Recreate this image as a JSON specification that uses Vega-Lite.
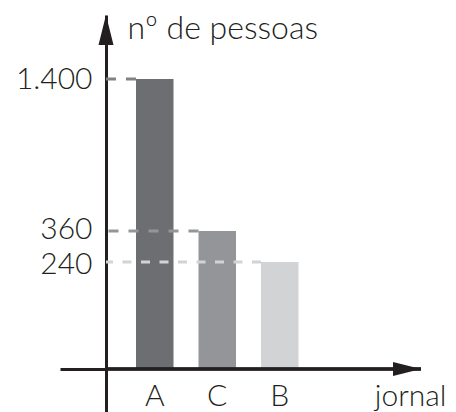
{
  "$schema": "https://vega.github.io/schema/vega-lite/v6.json",
  "autosize": {"type": "none"},
  "padding": {"left": 106, "top": 15, "right": 35, "bottom": 0},
  "width": 315,
  "height": 397,
  "background": "white",
  "config": {
    "view": {"stroke": null},
    "font": "Lato"
  },
  "data": {"values": [
    {"jornal": "A", "n": 1400},
    {"jornal": "C", "n": 360},
    {"jornal": "B", "n": 240}
  ]},
  "layer": [
    {
      "mark": {"type": "bar"},
      "encoding": {
        "x": {
          "field": "jornal", "type": "nominal",
          "scale": {"domain": ["A", "C", "B"], "range": [0, 287.5], "paddingInner": 0.4, "paddingOuter": 1, "align": 0.24},
          "axis": {
            "orient": "bottom", "offset": -43, "labelAngle": 0,
            "domain": false, "ticks": false, "grid": false,
            "labelFontSize": 30, "labelFontWeight": 300, "labelPadding": 36, "labelBaseline": "alphabetic", "labelColor": "#231f20",
            "title": "jornal", "titleFontSize": 30, "titleFontWeight": 300, "titleColor": "#231f20",
            "titleX": 340, "titleY": 36, "titleAlign": "right", "titleBaseline": "alphabetic", "titleAngle": 0
          }
        },
        "y": {
          "field": "n", "type": "quantitative",
          "scale": {"domain": [-100, 0, 240, 360, 1400, 1840], "range": [397, 354, 247, 216, 64, 0], "nice": false, "zero": false},
          "axis": {
            "orient": "left", "values": [0, 240, 360, 1400], "format": ",d",
            "labelExpr": "datum.value === 0 ? '' : replace(datum.label, ',', '.')",
            "labelOverlap": false,
            "labelOffset": {"condition": [{"test": "datum.value === 360", "value": -2}, {"test": "datum.value === 240", "value": 2}], "value": 0},
            "domainColor": "#231f20", "domainWidth": 3,
            "ticks": true, "tickColor": "#231f20", "tickWidth": 3,
            "tickSize": {"condition": {"test": "datum.value === 0", "value": 46}, "value": 0},
            "grid": false,
            "labelFontSize": 30, "labelFontWeight": 300, "labelPadding": 14, "labelBaseline": "middle", "labelAlign": "right", "labelColor": "#231f20",
            "title": "nº de pessoas", "titleFontSize": 32, "titleFontWeight": 300, "titleColor": "#231f20", "titleAngle": 0,
            "titleX": 21, "titleY": 23, "titleAlign": "left", "titleBaseline": "alphabetic"
          }
        },
        "y2": {"datum": 0},
        "fill": {
          "field": "jornal", "type": "nominal", "legend": null,
          "scale": {"domain": ["A", "C", "B"], "range": ["#6d6e71", "#939598", "#d1d3d4"]}
        }
      }
    },
    {
      "mark": {"type": "rule", "strokeWidth": 3},
      "encoding": {
        "x": {"field": "jornal", "type": "nominal", "bandPosition": 0},
        "x2": {"value": 0},
        "y": {"field": "n", "type": "quantitative"},
        "stroke": {
          "field": "jornal", "type": "nominal", "legend": null,
          "scale": {"domain": ["A", "C", "B"], "range": ["#808285", "#939598", "#d1d3d4"]}
        },
        "strokeDash": {
          "field": "jornal", "type": "nominal", "legend": null,
          "scale": {"domain": ["A", "C", "B"], "range": [[10, 10], [10, 10], [9, 9.5]]}
        }
      }
    },
    {
      "mark": {"type": "rule", "color": "#231f20", "strokeWidth": 3},
      "encoding": {
        "y": {"datum": 0, "type": "quantitative"}
      }
    },
    {
      "data": {"values": [{"eixo": "y"}]},
      "mark": {"type": "point", "shape": "M0,0L0.5,2L-0.5,2Z", "size": 900, "filled": true, "color": "#231f20", "opacity": 1, "strokeWidth": 0},
      "encoding": {
        "x": {"value": 0},
        "y": {"value": 0}
      }
    },
    {
      "data": {"values": [{"eixo": "x"}]},
      "mark": {"type": "point", "shape": "M0,0L-2,-0.5L-2,0.5Z", "size": 784, "filled": true, "color": "#231f20", "opacity": 1, "strokeWidth": 0},
      "encoding": {
        "x": {"value": {"expr": "width"}},
        "y": {"datum": 0, "type": "quantitative"}
      }
    }
  ]
}
